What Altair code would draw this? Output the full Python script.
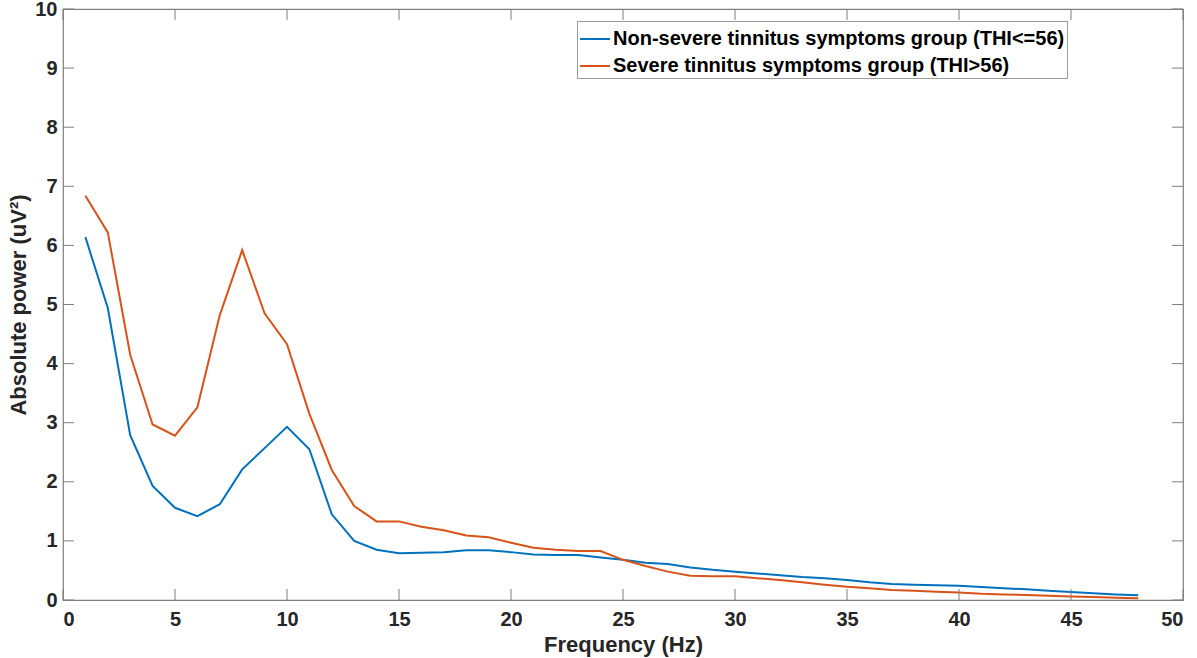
import altair as alt
import pandas as pd

freq = list(range(1, 49))
non_severe = [6.14, 4.94, 2.79, 1.93, 1.56, 1.42, 1.62, 2.21, 2.57, 2.93,
              2.55, 1.45, 1.00, 0.85, 0.79, 0.80, 0.81, 0.84, 0.84, 0.81,
              0.77, 0.76, 0.76, 0.72, 0.68, 0.63, 0.61, 0.55, 0.51, 0.48,
              0.45, 0.42, 0.39, 0.37, 0.34, 0.30, 0.27, 0.26, 0.25, 0.24,
              0.22, 0.20, 0.18, 0.155, 0.135, 0.115, 0.095, 0.08]
severe = [6.84, 6.22, 4.15, 2.97, 2.78, 3.26, 4.82, 5.92, 4.85, 4.33,
          3.15, 2.20, 1.59, 1.33, 1.33, 1.24, 1.18, 1.09, 1.06, 0.97,
          0.885, 0.85, 0.83, 0.83, 0.68, 0.575, 0.48, 0.41, 0.40, 0.40,
          0.37, 0.34, 0.30, 0.26, 0.225, 0.20, 0.17, 0.155, 0.14, 0.125,
          0.105, 0.095, 0.085, 0.07, 0.06, 0.05, 0.04, 0.03]
series_names = ["Non-severe tinnitus symptoms group (THI<=56)",
                "Severe tinnitus symptoms group (THI>56)"]
series_colors = ["#0072BD", "#D95319"]
x_ticks = [0, 5, 10, 15, 20, 25, 30, 35, 40, 45, 50]
y_ticks = [0, 1, 2, 3, 4, 5, 6, 7, 8, 9, 10]

rows = []
for f, a, b in zip(freq, non_severe, severe):
    rows.append({"freq": f, "power": a, "group": series_names[0]})
    rows.append({"freq": f, "power": b, "group": series_names[1]})
df = pd.DataFrame(rows)

FONT = "Liberation Sans"
W, H = 1120, 591
TL = 11
AX = "#7f7f7f"

xs = alt.Scale(domain=[0, 50], nice=False, zero=False)
ys = alt.Scale(domain=[0, 10], nice=False, zero=False)
x_axis = alt.Axis(values=x_ticks, format="d", title="Frequency (Hz)",
                  ticks=False, domain=False, grid=False, labelPadding=9,
                  titlePadding=5)
y_axis = alt.Axis(values=y_ticks, format="d", title="Absolute power (uV²)",
                  ticks=False, domain=False, grid=False,
                  labelPadding=6, titlePadding=4)

lines = alt.Chart(df).mark_line(strokeWidth=2).encode(
    x=alt.X("freq:Q", scale=xs, axis=x_axis),
    y=alt.Y("power:Q", scale=ys, axis=y_axis),
    color=alt.Color("group:N",
                    scale=alt.Scale(domain=series_names, range=series_colors),
                    sort=series_names,
                    legend=alt.Legend(title=None, orient="none",
                                      legendX=514, legendY=12,
                                      symbolType="stroke", symbolSize=900,
                                      symbolStrokeWidth=2, labelOffset=2,
                                      labelLimit=800, rowPadding=1,
                                      padding=2, strokeColor="#9a9a9a",
                                      fillColor="white")),
)

xt = pd.DataFrame({"v": x_ticks})
yt = pd.DataFrame({"v": y_ticks})

bottom_ticks = alt.Chart(xt).mark_rule(color=AX, strokeWidth=1).encode(
    x=alt.X("v:Q", scale=xs, axis=x_axis), y=alt.value(H), y2=alt.value(H - TL))
top_ticks = alt.Chart(xt).mark_rule(color=AX, strokeWidth=1).encode(
    x=alt.X("v:Q", scale=xs, axis=x_axis), y=alt.value(0), y2=alt.value(TL))
left_ticks = alt.Chart(yt).mark_rule(color=AX, strokeWidth=1).encode(
    y=alt.Y("v:Q", scale=ys, axis=y_axis), x=alt.value(0), x2=alt.value(TL))
right_ticks = alt.Chart(yt).mark_rule(color=AX, strokeWidth=1).encode(
    y=alt.Y("v:Q", scale=ys, axis=y_axis), x=alt.value(W), x2=alt.value(W - TL))

chart = alt.layer(lines, bottom_ticks, top_ticks, left_ticks, right_ticks).properties(
    width=W, height=H,
    padding={"left": 63, "top": 9, "right": 14, "bottom": 58},
    autosize=alt.AutoSizeParams(type="none"),
    background="white",
).configure_view(
    stroke=AX, strokeWidth=1.2
).configure_axis(
    labelFont=FONT, labelFontSize=20, labelFontWeight="bold", labelColor="#262626",
    titleFont=FONT, titleFontSize=22, titleFontWeight="bold", titleColor="#262626",
).configure_legend(
    labelFont=FONT, labelFontSize=20, labelFontWeight="bold", labelColor="#000000",
)

chart.save("out.html", embed_options={"renderer": "svg", "actions": False})
